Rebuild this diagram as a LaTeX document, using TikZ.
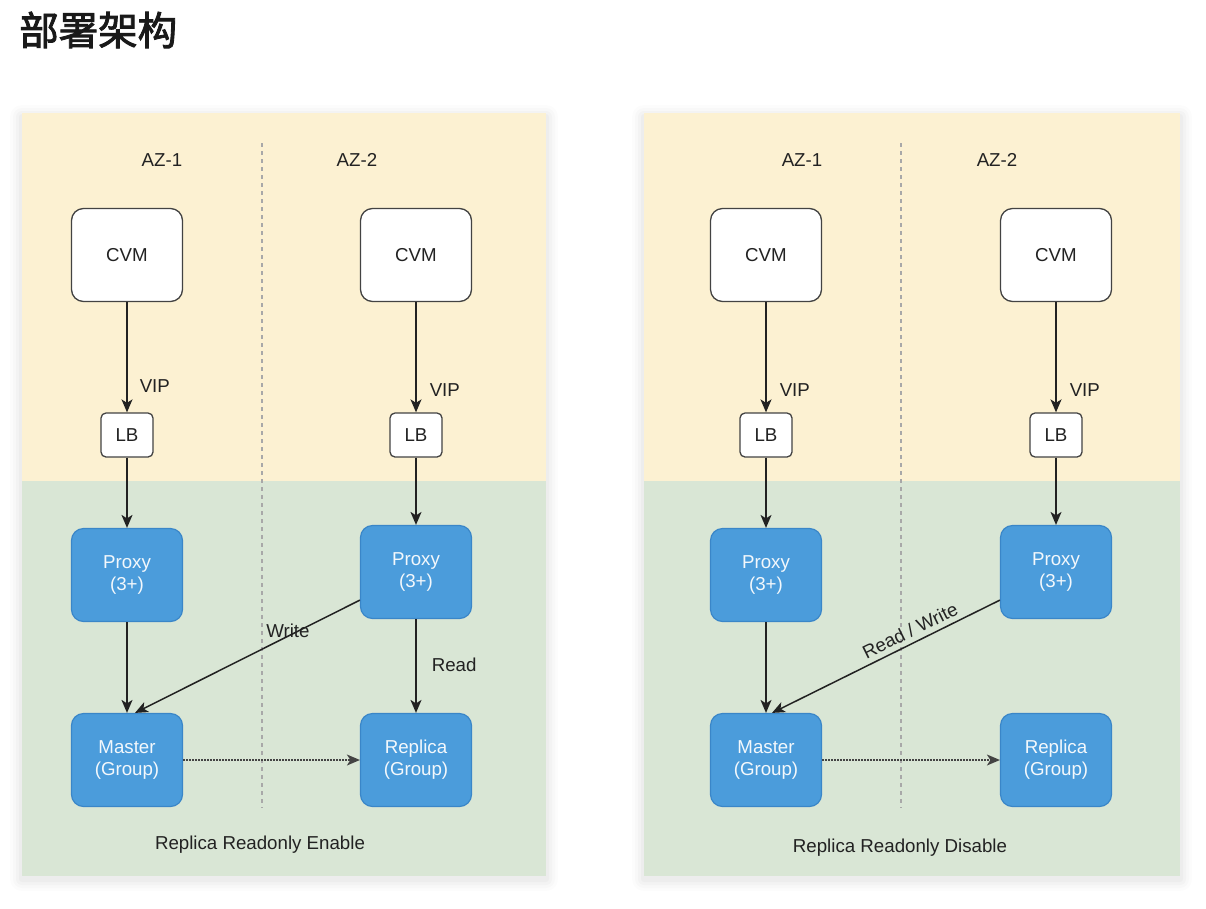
\documentclass[tikz,border=0pt]{standalone}
\usepackage{fontspec}
\setmainfont{Liberation Sans}
\newfontfamily\cjk{Noto Sans CJK SC}[FakeBold=2.2]
\usetikzlibrary{arrows.meta}
\definecolor{yel}{HTML}{FCF1D2}
\definecolor{grn}{HTML}{D9E6D5}
\definecolor{blu}{HTML}{4B9CDB}
\definecolor{bluedge}{HTML}{3A86C8}
\definecolor{ink}{HTML}{222222}
\definecolor{sep}{HTML}{A8A8A8}
\begin{document}
\begin{tikzpicture}[x=1pt,y=-1pt,
  txt/.style={font=\fontsize{18.7}{22}\selectfont, text=ink},
  cvmbox/.style={txt, draw=ink!85, line width=1.3pt, fill=white, rounded corners=12pt, minimum width=111pt, minimum height=93pt, inner sep=0pt},
  lbbox/.style={txt, draw=ink!85, line width=1.3pt, fill=white, rounded corners=5pt, minimum width=52pt, minimum height=44pt, inner sep=0pt},
  bluebox/.style={font=\fontsize{18.7}{22}\selectfont, text=white!93!blu, draw=bluedge, line width=1.2pt, fill=blu, rounded corners=12pt, minimum width=111pt, minimum height=93pt, inner sep=0pt, align=center},
  conn/.style={draw=ink, line width=1.5pt, -{Stealth[length=13pt,width=11pt,inset=3.5pt]}},
  dotconn/.style={draw=ink!85, line width=1.5pt, dash pattern=on 2pt off 1pt, -{Stealth[length=13pt,width=11pt,inset=3.5pt]}},
  lbl/.style={txt, inner sep=0pt},
  sepline/.style={draw=sep, line width=1.2pt, dash pattern=on 4pt off 4pt}
]
\useasboundingbox (0,0) rectangle (1206,908);
\fill[white] (0,0) rectangle (1206,908);

% title
\node[font=\cjk\fontsize{39.5}{44}\selectfont, text=black!90, anchor=west, inner sep=0pt] (title) at (19,30) {部署架构};

% soft shadows
\foreach \s/\o in {12/0.012,9/0.016,6/0.02,3/0.025}{
  \fill[black, opacity=\o, rounded corners=\s pt] (22-\s,113-\s+4) rectangle (546+\s,876+\s+3);
  \fill[black, opacity=\o, rounded corners=\s pt] (644-\s,113-\s+4) rectangle (1180+\s,876+\s+3);
}
% panels
\fill[yel] (22,113) rectangle (546,481);
\fill[grn] (22,481) rectangle (546,876);
\fill[yel] (644,113) rectangle (1180,481);
\fill[grn] (644,481) rectangle (1180,876);

\draw[sepline] (262,143) -- (262,808);
\draw[sepline] (901,143) -- (901,808);

% ---------- left panel ----------
\node[lbl] (az1a) at (162,160) {AZ-1};
\node[lbl] (az2a) at (357,160) {AZ-2};
\node[cvmbox] (c1a) at (127,255) {CVM};
\node[cvmbox] (c2a) at (416,255) {CVM};
\node[lbbox] (l1a) at (127,435) {LB};
\node[lbbox] (l2a) at (416,435) {LB};
\node[bluebox] (p1a) at (127,575) {Proxy\\(3+)};
\node[bluebox] (p2a) at (416,572) {Proxy\\(3+)};
\node[bluebox] (m1a) at (127,760) {Master\\(Group)};
\node[bluebox] (r1a) at (416,760) {Replica\\(Group)};

\draw[conn] (c1a) -- node[lbl, pos=0.76, anchor=west, xshift=12pt] {VIP} (l1a);
\draw[conn] (c2a) -- node[lbl, pos=0.8, anchor=west, xshift=13pt] {VIP} (l2a);
\draw[conn] (l1a) -- (p1a);
\draw[conn] (l2a) -- (p2a);
\draw[conn] (p1a) -- (m1a);
\draw[conn] ([yshift=19pt]p2a.south west) -- node[lbl, pos=0.32, yshift=5pt] {Write} ([xshift=8pt]m1a.north);
\draw[conn] (p2a) -- node[lbl, midway, anchor=west, xshift=15pt, yshift=1pt] {Read} (r1a);
\draw[dotconn] (m1a) -- (r1a);
\node[lbl] (capa) at (260,845) {Replica Readonly Enable};

% ---------- right panel ----------
\node[lbl] (az1b) at (802,160) {AZ-1};
\node[lbl] (az2b) at (997,160) {AZ-2};
\node[cvmbox] (c1b) at (766,255) {CVM};
\node[cvmbox] (c2b) at (1056,255) {CVM};
\node[lbbox] (l1b) at (766,435) {LB};
\node[lbbox] (l2b) at (1056,435) {LB};
\node[bluebox] (p1b) at (766,575) {Proxy\\(3+)};
\node[bluebox] (p2b) at (1056,572) {Proxy\\(3+)};
\node[bluebox] (m1b) at (766,760) {Master\\(Group)};
\node[bluebox] (r1b) at (1056,760) {Replica\\(Group)};

\draw[conn] (c1b) -- node[lbl, pos=0.8, anchor=west, xshift=13pt] {VIP} (l1b);
\draw[conn] (c2b) -- node[lbl, pos=0.8, anchor=west, xshift=13pt] {VIP} (l2b);
\draw[conn] (l1b) -- (p1b);
\draw[conn] (l2b) -- (p2b);
\draw[conn] (p1b) -- (m1b);
\draw[conn] ([yshift=19pt]p2b.south west) -- node[lbl, pos=0.37, sloped, above, yshift=5pt] {Read / Write} ([xshift=6pt]m1b.north);
\draw[dotconn] (m1b) -- (r1b);
\node[lbl] (capb) at (900,848) {Replica Readonly Disable};
\end{tikzpicture}
\end{document}
